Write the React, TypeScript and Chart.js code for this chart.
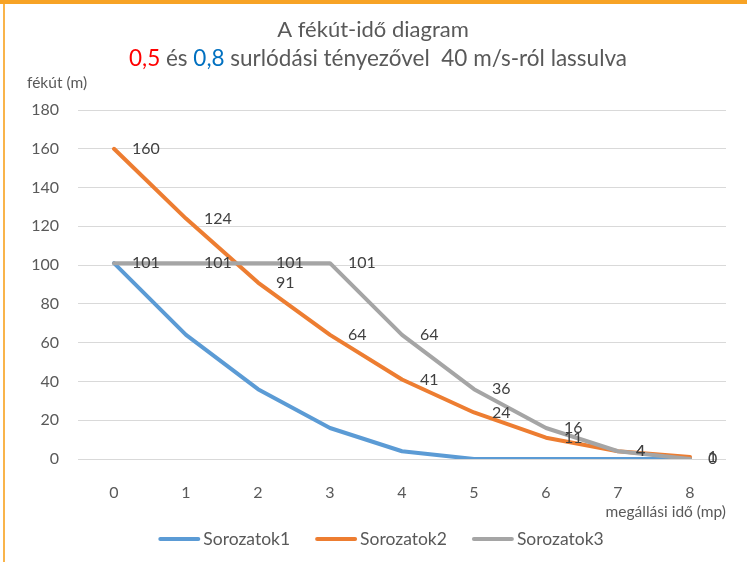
import React, { useEffect, useRef } from "react";
import { Chart, registerables } from "chart.js";

Chart.register(...registerables);

const categories = ["0", "1", "2", "3", "4", "5", "6", "7", "8"];
const series1 = [101, 64, 36, 16, 4, 0, 0, 0, 0];
const series2 = [160, 124, 91, 64, 41, 24, 11, 4, 1];
const series3 = [101, 101, 101, 101, 64, 36, 16, 4, 0];
const seriesNames = ["Sorozatok1", "Sorozatok2", "Sorozatok3"];
const seriesColors = ["#5B9BD5", "#ED7D31", "#A5A5A5"];
const labeledSeries = [1, 2];

const titleText = "A fékút-idő diagram";
const subtitleParts: [string, string][] = [
  ["0,5", "#FF0000"],
  [" és ", "#595959"],
  ["0,8", "#0070C0"],
  [" surlódási tényezővel  40 m/s-ról lassulva", "#595959"],
];
const yTitle = "fékút (m)";
const xTitle = "megállási idő (mp)";

const FONT = "Lato";
const TEXT = "#595959";

const customPlugin = {
  id: "customDraw",
  beforeDraw(chart: any) {
    const ctx = chart.ctx;
    ctx.save();
    ctx.fillStyle = "#FFFFFF";
    ctx.fillRect(0, 0, chart.width, chart.height);
    ctx.fillStyle = "#F9B44B";
    ctx.fillRect(3, 0, 2, chart.height);
    ctx.fillStyle = "#F7A325";
    ctx.fillRect(0, 0, chart.width, 4);
    ctx.restore();
  },
  afterDatasetsDraw(chart: any) {
    const ctx = chart.ctx;
    ctx.save();
    ctx.font = `16px ${FONT}`;
    ctx.fillStyle = "#404040";
    ctx.textAlign = "left";
    ctx.textBaseline = "middle";
    labeledSeries.forEach((di) => {
      const meta = chart.getDatasetMeta(di);
      const vals = chart.data.datasets[di].data;
      meta.data.forEach((pt: any, j: number) => {
        ctx.fillText(String(vals[j]), pt.x + 18, pt.y);
      });
    });
    ctx.restore();
  },
  afterDraw(chart: any) {
    const ctx = chart.ctx;
    const area = chart.chartArea;
    ctx.save();
    ctx.textBaseline = "middle";
    // title
    ctx.font = `22px ${FONT}`;
    ctx.fillStyle = TEXT;
    ctx.textAlign = "center";
    ctx.fillText(titleText, 373, 30);
    // subtitle
    ctx.font = `22.5px ${FONT}`;
    ctx.textAlign = "left";
    const total = subtitleParts.reduce((s, p) => s + ctx.measureText(p[0]).width, 0);
    let x = 378 - total / 2;
    subtitleParts.forEach(([t, c]) => {
      ctx.fillStyle = c;
      ctx.fillText(t, x, 59);
      x += ctx.measureText(t).width;
    });
    // axis titles
    ctx.font = `15.5px ${FONT}`;
    ctx.fillStyle = TEXT;
    ctx.textAlign = "left";
    ctx.fillText(yTitle, 27, 83);
    ctx.textAlign = "right";
    ctx.fillText(xTitle, area.right, 512);
    // legend
    ctx.font = `17.5px ${FONT}`;
    ctx.textAlign = "left";
    const lineW = 42;
    const gap = 3;
    const itemGap = 25;
    const widths = seriesNames.map((n) => lineW + gap + ctx.measureText(n).width);
    const legW = widths.reduce((a, b) => a + b, 0) + itemGap * (seriesNames.length - 1);
    let lx = 381 - legW / 2;
    const ly = 539;
    seriesNames.forEach((n, i) => {
      ctx.strokeStyle = seriesColors[i];
      ctx.lineWidth = 4;
      ctx.lineCap = "round";
      ctx.beginPath();
      ctx.moveTo(lx + 2, ly);
      ctx.lineTo(lx + lineW - 2, ly);
      ctx.stroke();
      ctx.fillStyle = TEXT;
      ctx.fillText(n, lx + lineW + gap, ly);
      lx += widths[i] + itemGap;
    });
    ctx.restore();
  },
};

export default function App() {
  const ref = useRef<HTMLCanvasElement>(null);
  useEffect(() => {
    document.body.style.margin = "0";
    const allSeries = [series1, series2, series3];
    const chart = new Chart(ref.current as HTMLCanvasElement, {
      type: "line",
      data: {
        labels: categories,
        datasets: allSeries.map((d, i) => ({
          label: seriesNames[i],
          data: d,
          borderColor: seriesColors[i],
          backgroundColor: seriesColors[i],
          borderWidth: 4,
          pointRadius: 0,
          tension: 0,
          fill: false,
          borderJoinStyle: "round" as const,
          borderCapStyle: "round" as const,
          order: 3 - i,
        })),
      },
      options: {
        responsive: false,
        animation: false,
        layout: { padding: { top: 110, right: 21, bottom: 0, left: 0 } },
        plugins: {
          legend: { display: false },
          title: { display: false },
          tooltip: { enabled: false },
        },
        scales: {
          x: {
            type: "category",
            offset: true,
            grid: { display: false, drawTicks: false },
            border: { display: false },
            ticks: { color: TEXT, font: { family: FONT, size: 16 }, padding: 24, maxRotation: 0 },
            afterFit: (s: any) => {
              s.height = 103;
            },
          },
          y: {
            min: 0,
            max: 180,
            ticks: { stepSize: 20, color: TEXT, font: { family: FONT, size: 16 }, padding: 19 },
            grid: { color: "#D9D9D9", lineWidth: 1, drawTicks: false },
            border: { display: false },
            afterFit: (s: any) => {
              s.width = 78;
            },
          },
        },
      },
      plugins: [customPlugin],
    });
    return () => chart.destroy();
  }, []);
  return (
    <div style={{ position: "absolute", left: 0, top: 0, width: 747, height: 562, background: "#fff" }}>
      <canvas ref={ref} width={747} height={562} style={{ width: 747, height: 562, display: "block" }} />
    </div>
  );
}
